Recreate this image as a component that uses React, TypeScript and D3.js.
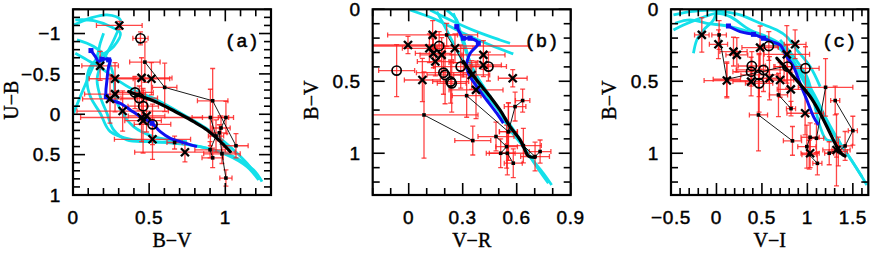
import React from "react";
import * as d3 from "d3";

type P = [number, number];
type E = [number, number, number, number];

// ---------- Panel (a): U-B vs B-V ----------
const A_X_TICKS = [0, 0.5, 1];
const A_Y_TICKS = [-1, -0.5, 0, 0.5, 1];
const A_CYAN: P[][] = [
  [[.009,-1.107],[.114,-1.19],[.223,-1.231],[.311,-1.169],[.278,-0.963],[.223,-0.756],[.179,-0.591],[.158,-0.426],[.179,-0.219],[.223,-0.012],[.267,0.194],[.354,0.318],[.508,0.339],[.705,0.36],[.880,0.421],[1.055,0.525],[1.186,0.69],[1.241,0.835]],
  [[.015,-1.169],[.136,-1.161],[.245,-1.087],[.311,-1.004],[.267,-0.839],[.179,-0.715],[.114,-0.591],[.092,-0.426],[.114,-0.219],[.179,-0.012],[.245,0.215],[.398,0.318],[.617,0.351],[.836,0.401],[1.011,0.504],[1.142,0.649],[1.219,0.814]],
  [[.004,-0.012],[.048,-0.219],[.103,-0.467],[.158,-0.715],[.179,-0.88],[.201,-1.004]],
  [[.015,-0.756],[.092,-0.674],[.201,-0.55],[.289,-0.426],[.398,-0.302],[.551,-0.178],[.748,0.029],[.923,0.236],[1.055,0.442],[1.142,0.607],[1.208,0.773]],
  [[.026,-0.921],[.136,-0.839],[.223,-0.694],[.267,-0.467],[.278,-0.219],[.311,-0.054],[.398,0.153],[.530,0.277],[.748,0.339]],
];
const A_BLUE: P[] = [[.118,-0.789],[.147,-0.715],[.168,-0.653],[.190,-0.682],[.223,-0.682],[.245,-0.674],[.234,-0.591],[.223,-0.426],[.219,-0.219],[.245,-0.178],[.311,-0.136],[.376,-0.054],[.442,0.029],[.519,0.112],[.573,0.215],[.639,0.298],[.705,0.339],[.814,0.401]];
const A_BLUE_MARKS: P[] = [[.118,-0.789],[.190,-0.682],[.234,-0.674],[.219,-0.219],[.519,0.112]];
const A_MODEL: P[] = [[.365,-0.281],[.442,-0.227],[.530,-0.165],[.617,-0.087],[.705,0.0],[.792,0.091],[.880,0.194],[.956,0.318],[1.033,0.463]];
const A_CROSSES: E[] = [
  [0.304,-1.10,0.15,0.05],[0.178,-0.60,0.12,0.18],[0.276,-0.44,0.17,0.2],[0.45,-0.45,0.2,0.25],
  [0.515,-0.44,0.12,0.2],[0.276,-0.25,0.2,0.22],[0.243,-0.19,0.18,0.3],[0.326,-0.04,0.3,0.25],
  [0.45,0.04,0.4,0.3],[0.46,0.08,0.12,0.4],[0.483,0.02,0.12,0.2],[0.522,0.31,0.25,0.25],[0.735,0.47,0.33,0.12],
];
const A_CIRCLES: E[] = [
  [0.443,-0.94,0.05,0.08],[0.407,-0.27,0.12,0.2],[0.435,-0.20,0.12,0.15],[0.461,-0.10,0.1,0.2],[0.522,0.125,0.12,0.25],
];
const A_SQUARES: E[][] = [
  [[0.472,-0.646,0.1,0.25],[0.602,-0.333,0.08,0.3],[0.917,-0.167,0.1,0.4],[1.07,0.39,0.08,0.15]],
  [[0.902,0.04,0.12,0.35],[0.939,0.27,0.05,0.2],[0.9,0.44,0.1,0.1],[0.917,0.54,0.07,0.12]],
  [[1.004,0.04,0.05,0.2],[0.972,0.17,0.06,0.15],[0.961,0.23,0.05,0.1],[0.978,0.49,0.12,0.12],[1.004,0.79,0.04,0.1]],
  [[0.667,0.35,0.05,0.08]],
];

// ---------- Panel (b): B-V vs V-R ----------
const B_X_TICKS = [0, 0.3, 0.6, 0.9];
const B_Y_TICKS = [0, 0.5, 1];
const B_CYAN: P[][] = [
  [[.007,.005],[.156,.074],[.304,.167],[.452,.248],[.581,.310]],
  [[.119,.005],[.230,.074],[.378,.155],[.507,.213],[.563,.236]],
  [[.211,.005],[.267,.074],[.285,.167],[.322,.306],[.378,.468],[.452,.606],[.526,.745],[.600,.884],[.674,1.023],[.748,1.139],[.794,1.22]],
  [[.248,.028],[.304,.213],[.350,.398],[.415,.537],[.489,.676],[.563,.838],[.637,.954],[.711,1.093],[.776,1.208]],
  [[.156,.016],[.211,.144],[.267,.282],[.341,.444],[.452,.630],[.544,.769],[.619,.907]],
];
const B_BLUE: P[] = [[.267,.120],[.285,.167],[.304,.201],[.341,.201],[.387,.236],[.341,.306],[.322,.398],[.341,.468],[.378,.537],[.433,.630],[.489,.722],[.526,.792]];
const B_BLUE_MARKS: P[] = [[.267,.120],[.304,.201],[.341,.201],[.387,.236]];
const B_MODEL: P[] = [[.304,.363],[.378,.491],[.452,.606],[.507,.699],[.563,.815],[.619,.907],[.646,.977],[.665,1.019],[.702,1.028]];
const B_CROSSES: E[] = [
  [-0.004,0.248,0.2,0.06],[0.133,0.178,0.25,0.1],[0.115,0.271,0.15,0.1],[0.137,0.306,0.1,0.1],
  [0.183,0.317,0.12,0.12],[0.148,0.363,0.1,0.1],[0.076,0.491,0.1,0.15],[0.257,0.271,0.1,0.1],
  [0.415,0.317,0.12,0.1],[0.415,0.387,0.1,0.08],[0.578,0.479,0.08,0.06],[0.374,0.56,0.15,0.2],[0.35,0.456,0.1,0.1],
];
const B_CIRCLES: E[] = [
  [-0.067,0.426,0.1,0.18],[0.169,0.255,0.5,0.1],[0.289,0.398,0.15,0.15],[0.193,0.44,0.15,0.15],
  [0.202,0.456,0.1,0.2],[0.233,0.502,0.1,0.15],[0.239,0.514,0.08,0.2],[0.443,0.398,0.1,0.1],
];
const B_SQUARES: E[][] = [
  [[0.211,0.178,0.06,0.08],[0.304,0.37,0.08,0.1]],
  [[0.085,0.734,0.3,0.3],[0.356,0.912,0.1,0.1]],
  [[0.322,0.6,0.08,0.15],[0.554,0.85,0.05,0.2]],
  [[0.633,0.634,0.04,0.08],[0.591,0.676,0.06,0.1],[0.554,0.85,0.05,0.2]],
  [[0.485,0.884,0.1,0.1],[0.544,0.954,0.06,0.15],[0.511,1.0,0.08,0.1],[0.548,1.0,0.1,0.15],[0.581,1.069,0.05,0.1]],
  [[0.637,0.947,0.1,0.12],[0.702,1.023,0.08,0.1],[0.73,0.988,0.06,0.08]],
];

// ---------- Panel (c): B-V vs V-I ----------
const C_X_TICKS = [-0.5, 0, 0.5, 1, 1.5];
const C_Y_TICKS = [0, 0.5, 1];
const C_CYAN: P[][] = [
  [[-.473,.039],[-.290,.016],[-.070,.005],[.077,.016],[.260,.039],[.480,.097],[.664,.144],[.774,.190],[.884,.282],[1.030,.398],[1.140,.537]],
  [[-.473,.144],[-.363,.109],[-.180,.063],[.004,.028],[.150,.051],[.370,.144],[.554,.190],[.737,.259],[.884,.398],[1.067,.583],[1.214,.769],[1.360,.931],[1.507,1.069],[1.654,1.22]],
  [[-.253,.306],[-.216,.213],[-.143,.144],[-.033,.074],[.004,.005]],
  [[-.455,.097],[-.290,.074],[-.106,.097],[.150,.120],[.407,.167],[.627,.236],[.810,.352],[.994,.537],[1.140,.699],[1.287,.861],[1.434,1.0],[1.599,1.162]],
  [[.700,.213],[.847,.329],[.994,.468],[1.067,.630],[1.140,.815],[1.214,.907],[1.360,.907]],
];
const C_BLUE: P[] = [[.132,.116],[.260,.155],[.407,.174],[.517,.201],[.609,.225],[.700,.248],[.737,.282],[.774,.329],[.847,.398],[.920,.514],[.994,.630],[1.067,.745],[1.122,.803]];
const C_BLUE_MARKS: P[] = [[.132,.116],[.407,.174],[.517,.201]];
const C_MODEL: P[] = [[.664,.340],[.847,.468],[1.030,.606],[1.140,.722],[1.250,.861],[1.324,.954],[1.379,1.005],[1.415,1.019]];
const C_CROSSES: E[] = [
  [-0.161,0.178,0.08,0.12],[0.022,0.243,0.1,0.1],[0.187,0.294,0.15,0.1],[0.224,0.317,0.12,0.12],
  [0.114,0.495,0.25,0.12],[0.381,0.502,0.2,0.1],[0.48,0.266,0.2,0.15],[0.70,0.491,0.15,0.12],
  [0.583,0.479,0.12,0.15],[0.774,0.313,0.25,0.2],[0.865,0.243,0.12,0.1],[0.818,0.556,0.15,0.12],
  [0.975,0.722,0.2,0.15],[1.03,1.0,0.1,0.1],[1.32,0.977,0.15,0.25],
];
const C_CIRCLES: E[] = [
  [0.576,0.255,0.1,0.1],[0.389,0.394,0.15,0.1],[0.381,0.433,0.2,0.1],[0.469,0.456,0.2,0.15],
  [0.517,0.421,0.3,0.15],[0.781,0.398,0.15,0.15],[0.979,0.41,0.15,0.15],[0.469,0.514,0.15,0.2],
];
const C_SQUARES: E[][] = [
  [[0.029,0.178,0.08,0.1],[0.114,0.486,0.15,0.12],[0.744,0.398,0.1,0.1]],
  [[0.462,0.734,0.1,0.25],[0.836,0.914,0.1,0.1]],
  [[0.682,0.595,0.1,0.15],[0.82,0.69,0.05,0.05]],
  [[1.306,0.634,0.05,0.1],[1.5,0.843,0.05,0.1],[1.415,0.949,0.08,0.1],[1.34,0.988,0.1,0.1]],
  [[1.2,0.542,0.3,0.2],[1.1,0.896,0.08,0.1],[1.03,0.889,0.1,0.1],[0.994,0.954,0.1,0.15],[1.02,1.01,0.08,0.1],[1.11,1.07,0.05,0.08]],
  [[1.24,1.0,0.05,0.08],[1.32,0.977,0.05,0.05]],
];

const TOP = 9.3;
const BOTTOM = 195;
const TICK_FONT = "'Liberation Sans', Arial, sans-serif";
const TITLE_FONT = "'Liberation Serif', 'Times New Roman', serif";
const fmt = (v: number) => String(+v.toFixed(2)).replace("-", "\u2212");

type PanelProps = {
  id: string;
  left: number;
  right: number;
  xDomain: [number, number];
  yDomain: [number, number];
  xTicks: number[];
  yTicks: number[];
  xMinorStep: number;
  yMinorStep: number;
  xTitle: string;
  yTitle: string;
  tag: string;
  cyan: P[][];
  blue: P[];
  blueMarks: P[];
  model: P[];
  crosses: E[];
  circles: E[];
  squares: E[][];
};

function Panel(p: PanelProps) {
  const x = d3.scaleLinear().domain(p.xDomain).range([p.left, p.right]);
  const y = d3.scaleLinear().domain(p.yDomain).range([TOP, BOTTOM]);
  const line = d3.line<P>().x((d) => x(d[0])).y((d) => y(d[1])).curve(d3.curveCatmullRom.alpha(0.5));
  const lineStraight = d3.line<[number, number]>().x((d) => x(d[0])).y((d) => y(d[1]));
  const eps = 1e-6;
  const xMinor = d3.range(Math.ceil(p.xDomain[0] / p.xMinorStep - eps) * p.xMinorStep, p.xDomain[1] + eps, p.xMinorStep);
  const yMinor = d3.range(Math.ceil(p.yDomain[0] / p.yMinorStep - eps) * p.yMinorStep, p.yDomain[1] + eps, p.yMinorStep);
  const isMajor = (v: number, ticks: number[]) => ticks.some((t) => Math.abs(t - v) < 1e-6);
  const allErr: E[] = [...p.crosses, ...p.circles, ...p.squares.flat()];
  const cap = 2.5;
  const clip = `clip-${p.id}`;
  const majorLen = 12;
  const minorLen = 7;
  return (
    <g>
      <defs>
        <clipPath id={clip}>
          <rect x={p.left} y={TOP} width={p.right - p.left} height={BOTTOM - TOP} />
        </clipPath>
      </defs>
      <g clipPath={`url(#${clip})`}>
        {p.cyan.map((c, i) => (
          <path key={i} d={line(c) || ""} fill="none" stroke="#14e0ea" strokeWidth={2.8} strokeLinejoin="round" />
        ))}
        <g stroke="#ff1e1e" strokeOpacity={0.82} strokeWidth={1.3} fill="none">
          {allErr.map((e, i) => {
            const cx = x(e[0]);
            const cy = y(e[1]);
            const x0 = x(e[0] - e[2]);
            const x1 = x(e[0] + e[2]);
            const y0 = y(e[1] - e[3]);
            const y1 = y(e[1] + e[3]);
            return (
              <g key={i}>
                <line x1={x0} x2={x1} y1={cy} y2={cy} />
                <line x1={x0} x2={x0} y1={cy - cap} y2={cy + cap} />
                <line x1={x1} x2={x1} y1={cy - cap} y2={cy + cap} />
                <line x1={cx} x2={cx} y1={y0} y2={y1} />
                <line x1={cx - cap} x2={cx + cap} y1={y0} y2={y0} />
                <line x1={cx - cap} x2={cx + cap} y1={y1} y2={y1} />
              </g>
            );
          })}
        </g>
        {p.squares.map((s, i) => (
          <path key={i} d={lineStraight(s.map((e) => [e[0], e[1]] as [number, number])) || ""} fill="none" stroke="#000" strokeWidth={0.9} />
        ))}
        <path d={line(p.blue) || ""} fill="none" stroke="#1010f0" strokeWidth={3} strokeLinejoin="round" />
        {p.blueMarks.map((m, i) => (
          <rect key={i} x={x(m[0]) - 2.5} y={y(m[1]) - 2.5} width={5} height={5} fill="#1010f0" />
        ))}
        <path d={line(p.model) || ""} fill="none" stroke="#000" strokeWidth={3.2} strokeLinecap="round" />
        {p.squares.flat().map((e, i) => (
          <rect key={i} x={x(e[0]) - 1.8} y={y(e[1]) - 1.8} width={3.6} height={3.6} fill="#000" />
        ))}
        {p.circles.map((e, i) => (
          <circle key={i} cx={x(e[0])} cy={y(e[1])} r={4.6} fill="none" stroke="#000" strokeWidth={1.7} />
        ))}
        {p.crosses.map((e, i) => {
          const cx = x(e[0]);
          const cy = y(e[1]);
          const s = 4;
          return (
            <g key={i} stroke="#000" strokeWidth={2.3}>
              <line x1={cx - s} x2={cx + s} y1={cy - s} y2={cy + s} />
              <line x1={cx - s} x2={cx + s} y1={cy + s} y2={cy - s} />
            </g>
          );
        })}
      </g>
      {/* frame and ticks */}
      <g stroke="#000" strokeWidth={1.6}>
        {xMinor.map((v, i) => {
          const L = isMajor(v, p.xTicks) ? majorLen : minorLen;
          const xx = x(v);
          return (
            <g key={i}>
              <line x1={xx} x2={xx} y1={BOTTOM} y2={BOTTOM - L} />
              <line x1={xx} x2={xx} y1={TOP} y2={TOP + L} />
            </g>
          );
        })}
        {yMinor.map((v, i) => {
          const L = isMajor(v, p.yTicks) ? majorLen : minorLen;
          const yy = y(v);
          return (
            <g key={i}>
              <line x1={p.left} x2={p.left + L} y1={yy} y2={yy} />
              <line x1={p.right} x2={p.right - L} y1={yy} y2={yy} />
            </g>
          );
        })}
      </g>
      <rect x={p.left} y={TOP} width={p.right - p.left} height={BOTTOM - TOP} fill="none" stroke="#000" strokeWidth={2.2} />
      <g fontFamily={TICK_FONT} fontSize={19} fill="#000" stroke="#000" strokeWidth={0.45} letterSpacing={0.6}>
        {p.xTicks.map((v, i) => (
          <text key={i} x={x(v)} y={224} textAnchor="middle">{fmt(v)}</text>
        ))}
        {p.yTicks.map((v, i) => (
          <text key={i} x={p.left - 12} y={y(v)} dy="0.35em" textAnchor="end">{fmt(v)}</text>
        ))}
      </g>
      <g fontFamily={TITLE_FONT} fontSize={20} fill="#000" stroke="#000" strokeWidth={0.4}>
        <text x={(p.left + p.right) / 2} y={247} textAnchor="middle">{p.xTitle}</text>
        <text transform={`translate(${p.left - 55},${(TOP + BOTTOM) / 2 - 2}) rotate(-90)`} textAnchor="middle">{p.yTitle}</text>
      </g>
      <text x={p.right - 12} y={47} textAnchor="end" fontFamily="'Liberation Mono', 'Courier New', monospace" fontSize={19} stroke="#000" strokeWidth={0.5}>{p.tag}</text>
    </g>
  );
}

export default function App() {
  return (
    <div style={{ position: "absolute", left: 0, top: 0 }}>
      <svg width={872} height={253} viewBox="0 0 872 253" style={{ display: "block", background: "#fff" }}>
        <Panel id="a" left={73} right={271} xDomain={[0, 1.3]} yDomain={[-1.3, 1]} xTicks={A_X_TICKS} yTicks={A_Y_TICKS}
          xMinorStep={0.1} yMinorStep={0.1} xTitle={"B\u2212V"} yTitle={"U\u2212B"} tag="(a)"
          cyan={A_CYAN} blue={A_BLUE} blueMarks={A_BLUE_MARKS} model={A_MODEL} crosses={A_CROSSES} circles={A_CIRCLES} squares={A_SQUARES} />
        <Panel id="b" left={372.7} right={570.7} xDomain={[-0.2, 0.9]} yDomain={[0, 1.29]} xTicks={B_X_TICKS} yTicks={B_Y_TICKS}
          xMinorStep={0.1} yMinorStep={0.1} xTitle={"V\u2212R"} yTitle={"B\u2212V"} tag="(b)"
          cyan={B_CYAN} blue={B_BLUE} blueMarks={B_BLUE_MARKS} model={B_MODEL} crosses={B_CROSSES} circles={B_CIRCLES} squares={B_SQUARES} />
        <Panel id="c" left={671} right={868.3} xDomain={[-0.5, 1.67]} yDomain={[0, 1.29]} xTicks={C_X_TICKS} yTicks={C_Y_TICKS}
          xMinorStep={0.1} yMinorStep={0.1} xTitle={"V\u2212I"} yTitle={"B\u2212V"} tag="(c)"
          cyan={C_CYAN} blue={C_BLUE} blueMarks={C_BLUE_MARKS} model={C_MODEL} crosses={C_CROSSES} circles={C_CIRCLES} squares={C_SQUARES} />
      </svg>
    </div>
  );
}
